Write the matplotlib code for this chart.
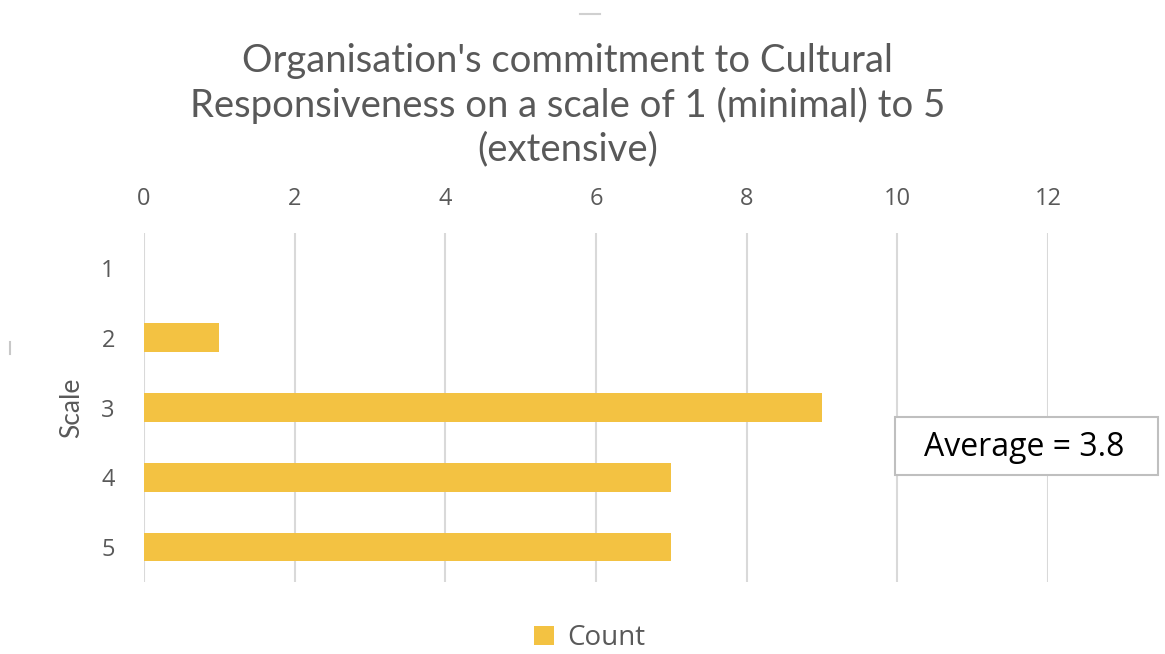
import matplotlib
matplotlib.use("Agg")
import matplotlib.pyplot as plt
from matplotlib.patches import Rectangle

# Survey responses: commitment rating (1-5) and number of respondents
scale_levels = ["1", "2", "3", "4", "5"]
counts = [0, 1, 9, 7, 7]
x_ticks = [0, 2, 4, 6, 8, 10, 12]
average_text = "Average = 3.8"
title = ("Organisation's commitment to Cultural\n"
         "Responsiveness on a scale of 1 (minimal) to 5\n"
         "(extensive)")

BAR = "#F3C242"
GRID = "#D9D9D9"
TEXT = "#595959"

fig = plt.figure(figsize=(11.65, 6.54), dpi=100)
ax = fig.add_axes([0.1236, 0.110, 0.776, 0.5336])

positions = list(range(len(scale_levels)))
ax.barh(positions, counts, height=0.41, color=BAR, zorder=3, label="Count")

ax.set_xlim(0, 12)
ax.set_ylim(len(scale_levels) - 0.5, -0.5)
ax.set_xticks(x_ticks)
ax.set_xticklabels([str(t) for t in x_ticks])
ax.set_yticks(positions)
ax.set_yticklabels(scale_levels)

ax.xaxis.tick_top()
ax.tick_params(axis="x", length=0, pad=16, labelsize=17, labelcolor=TEXT)
ax.tick_params(axis="y", length=0, pad=21, labelsize=17, labelcolor=TEXT)
for lab in ax.get_xticklabels() + ax.get_yticklabels():
    lab.set_fontfamily("Open Sans")

ax.grid(axis="x", color=GRID, linewidth=1.5, zorder=0)
ax.grid(axis="y", visible=False)
for sp in ax.spines.values():
    sp.set_visible(False)

ax.set_ylabel("Scale", fontsize=19, color=TEXT, family="Lato", labelpad=12)

fig.text(0.487, 0.935, title, ha="center", va="top", fontsize=27.5,
         color=TEXT, family="Lato", linespacing=1.26)

# Callout box with the mean rating
fig.patches.append(Rectangle((895 / 1165, 1 - 475 / 654), 263 / 1165, 58 / 654,
                             transform=fig.transFigure, facecolor="white",
                             edgecolor="#BFBFBF", linewidth=1.5, zorder=5))
fig.text(1024 / 1165, 1 - 448 / 654, average_text, ha="center", va="center",
         fontsize=23, color="black", family="Open Sans", zorder=6)

leg = fig.legend(loc="center", bbox_to_anchor=(590 / 1165, 1 - 638 / 654),
                 frameon=False, handlelength=0.7, handleheight=0.7,
                 handletextpad=0.5, borderpad=0.2,
                 prop={"family": "Open Sans", "size": 20})
for t in leg.get_texts():
    t.set_color(TEXT)

# Faint marks near the frame edges
fig.add_artist(plt.Line2D([580 / 1165, 600 / 1165], [1 - 14 / 654, 1 - 14 / 654],
                          transform=fig.transFigure, color="#D0D0D0", linewidth=1.5))
fig.add_artist(plt.Line2D([10 / 1165, 10 / 1165], [1 - 342 / 654, 1 - 354 / 654],
                          transform=fig.transFigure, color="#C8C8C8", linewidth=1.5))

fig.savefig("out.png", dpi=100, facecolor="white")
